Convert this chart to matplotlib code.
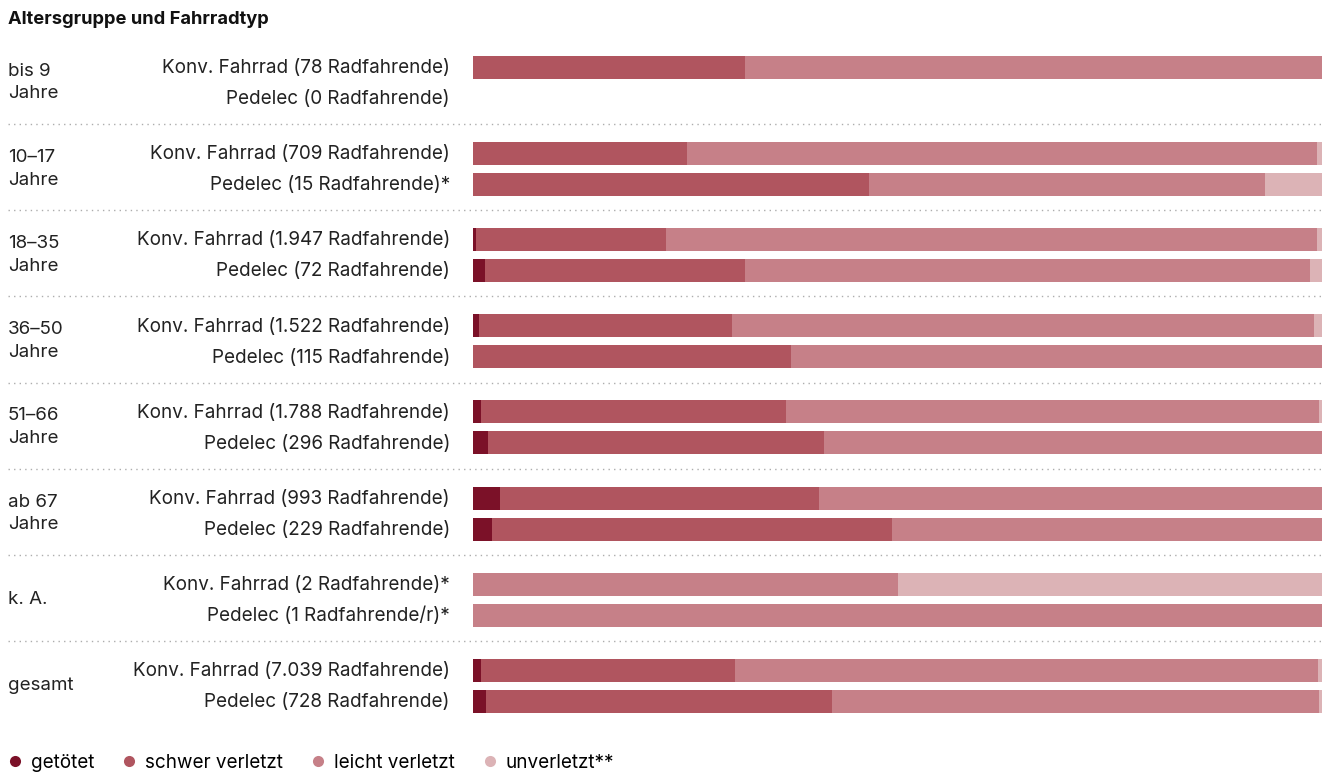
import matplotlib
matplotlib.use('Agg')

import numpy as np
import matplotlib.pyplot as plt
from matplotlib.lines import Line2D

plt.rcParams['font.family'] = ['Inter', 'DejaVu Sans']

# Data: share in percent per row
groups = ["bis 9\nJahre", "10–17\nJahre", "18–35\nJahre", "36–50\nJahre",
          "51–66\nJahre", "ab 67\nJahre", "k. A.", "gesamt"]
row_labels = [
    ("Konv. Fahrrad (78 Radfahrende)", "Pedelec (0 Radfahrende)"),
    ("Konv. Fahrrad (709 Radfahrende)", "Pedelec (15 Radfahrende)*"),
    ("Konv. Fahrrad (1.947 Radfahrende)", "Pedelec (72 Radfahrende)"),
    ("Konv. Fahrrad (1.522 Radfahrende)", "Pedelec (115 Radfahrende)"),
    ("Konv. Fahrrad (1.788 Radfahrende)", "Pedelec (296 Radfahrende)"),
    ("Konv. Fahrrad (993 Radfahrende)", "Pedelec (229 Radfahrende)"),
    ("Konv. Fahrrad (2 Radfahrende)*", "Pedelec (1 Radfahrende/r)*"),
    ("Konv. Fahrrad (7.039 Radfahrende)", "Pedelec (728 Radfahrende)"),
]
categories = ["getötet", "schwer verletzt", "leicht verletzt", "unverletzt**"]
colors = ["#7b1128", "#b0555f", "#c68088", "#dcb3b6"]

getoetet = [0.0, 0.0, 0.0, 0.0, 0.3, 1.4, 0.7, 0.0, 0.9, 1.8, 3.2, 2.2, 0.0, 0.0, 0.9, 1.5]
schwer = [32.0, 0.0, 25.2, 46.7, 22.4, 30.6, 29.8, 37.4, 36.0, 39.5, 37.6, 47.2, 0.0, 0.0, 30.0, 40.8]
leicht = [68.0, 0.0, 74.2, 46.6, 76.7, 66.6, 68.6, 62.6, 62.8, 58.7, 59.2, 50.6, 50.0, 100.0, 68.6, 57.4]
unverletzt = [0.0, 0.0, 0.6, 6.7, 0.6, 1.4, 0.9, 0.0, 0.3, 0.0, 0.0, 0.0, 50.0, 0.0, 0.5, 0.3]
series = [getoetet, schwer, leicht, unverletzt]

W, H = 1325, 774
fig = plt.figure(figsize=(W / 100, H / 100), dpi=100)
ax = fig.add_axes([473 / W, 0, 849 / W, 1])
ax.set_xlim(0, 100)
ax.set_ylim(H, 0)
ax.axis('off')

step = 86.2
y_konv = 67 + step * np.arange(len(groups))
y_rows = np.ravel(np.column_stack([y_konv, y_konv + 31]))

left = np.zeros(len(y_rows))
for vals, col in zip(series, colors):
    ax.barh(y_rows, vals, left=left, height=23, color=col, linewidth=0)
    left += np.array(vals)

# Labels
fig.text(8 / W, 1 - 20 / H, "Altersgruppe und Fahrradtyp", fontsize=13.2,
         fontweight='bold', va='center', ha='left', color='#111111')
for i, g in enumerate(groups):
    ymid = y_konv[i] + 15.5
    fig.text(8 / W, 1 - ymid / H, g, fontsize=13.5, va='center', ha='left',
             linespacing=1.45, color='#222222')
    for j, lab in enumerate(row_labels[i]):
        yy = y_konv[i] + 31 * j + 1
        fig.text(450 / W, 1 - yy / H, lab, fontsize=13.6, va='center',
                 ha='right', color='#222222')

# Dotted separators
for i in range(len(groups) - 1):
    ys = 1 - (124 + step * i) / H
    fig.add_artist(Line2D([8 / W, 1], [ys, ys], color='#adadad', lw=1,
                          linestyle=(0, (1, 3))))

# Legend
handles = [Line2D([], [], marker='o', linestyle='none', markersize=8,
                  markerfacecolor=c, markeredgewidth=0) for c in colors]
fig.legend(handles, categories, loc='lower left', bbox_to_anchor=(-0.006, -0.014),
           ncol=4, frameon=False, fontsize=13.6, handletextpad=0.35,
           columnspacing=1.35, handlelength=1.0, borderaxespad=0.3)

fig.savefig("out.png", dpi=100)
